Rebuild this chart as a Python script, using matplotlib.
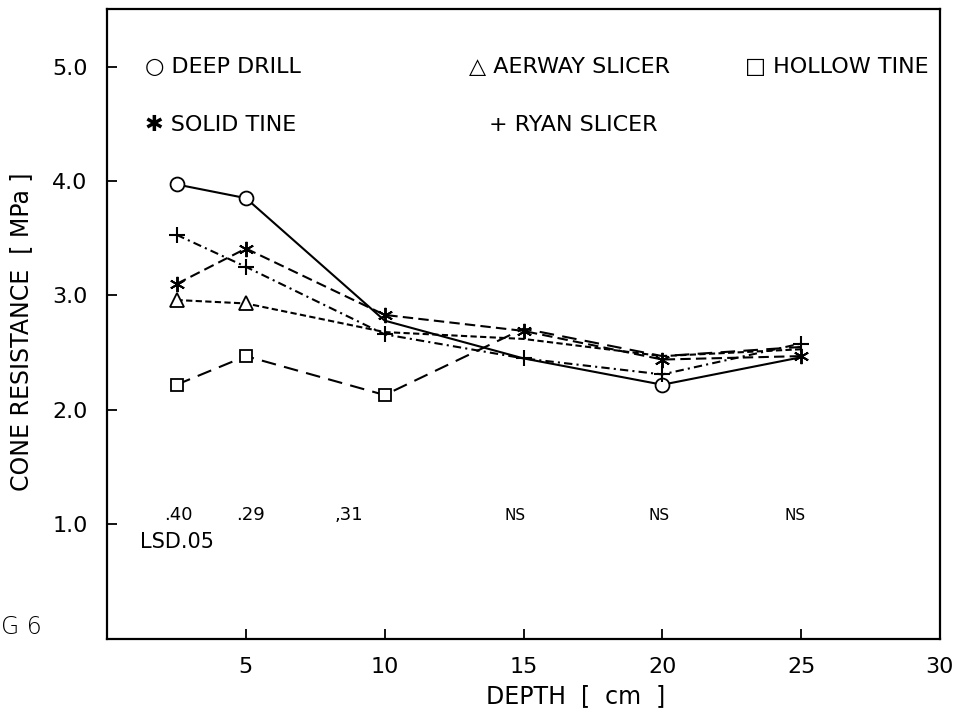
import matplotlib
matplotlib.use("Agg")
import matplotlib.pyplot as plt

# depth (cm) and cone resistance (MPa) per treatment
depth = [2.5, 5, 10, 15, 20, 25]
deep_drill = [3.97, 3.85, 2.78, 2.45, 2.22, 2.46]
aerway_slicer = [2.96, 2.93, 2.68, 2.62, 2.47, 2.53]
hollow_tine = [2.22, 2.47, 2.13, 2.71, 2.47, 2.55]
solid_tine = [3.10, 3.41, 2.83, 2.69, 2.44, 2.47]
ryan_slicer = [3.53, 3.25, 2.66, 2.45, 2.31, 2.58]

x_ticks = [5, 10, 15, 20, 25, 30]
y_ticks = [1, 2, 3, 4, 5]

# handwritten LSD notes under each depth
lsd_x = [2.55, 5.15, 8.7, 14.7, 19.9, 24.8]
lsd_text = [".40", ".29", ",31", "NS", "NS", "NS"]
lsd_size = [13, 13, 13, 11, 11, 11]

plt.rcParams['font.family'] = ['DejaVu Sans']

fig = plt.figure(figsize=(9.65, 7.13), dpi=100)
ax = fig.add_axes([0.111, 0.104, 0.863, 0.883])

lw = 1.5
ms = 10
ax.plot(depth, deep_drill, color='k', lw=lw, ls='-', marker='o', ms=ms,
        mfc='white', mec='k', mew=1.3, markevery=[0, 1, 4], zorder=3)
ax.plot(depth, aerway_slicer, color='k', lw=lw, ls=(0, (3, 1.6)), marker='^',
        ms=ms, mfc='white', mec='k', mew=1.3, markevery=[0, 1], zorder=3)
ax.plot(depth, hollow_tine, color='k', lw=lw, ls=(0, (7, 4)), marker='s',
        ms=9, mfc='white', mec='k', mew=1.3, markevery=[0, 1, 2], zorder=3)
ax.plot(depth, solid_tine, color='k', lw=lw, ls=(0, (5, 2.5)), marker=(6, 2, 0),
        ms=11, mec='k', mew=1.4, zorder=4)
ax.plot(depth, ryan_slicer, color='k', lw=lw, ls=(0, (4, 2, 1, 2)), marker='+',
        ms=12, mec='k', mew=1.5, zorder=4)

ax.set_xlim(0, 30)
ax.set_ylim(0, 5.5)
ax.set_xticks(x_ticks)
ax.set_xticklabels([str(v) for v in x_ticks])
ax.set_yticks(y_ticks)
ax.set_yticklabels(["%.1f" % v for v in y_ticks])
ax.tick_params(direction='in', length=7, width=1.3, labelsize=16, pad=14)
ax.tick_params(axis='x', pad=13)
for s in ax.spines.values():
    s.set_linewidth(1.6)

ax.set_ylabel("CONE RESISTANCE  [ MPa ]", fontsize=17)
ax.yaxis.set_label_coords(-0.089, 0.488)
ax.set_xlabel("DEPTH  [  cm  ]", fontsize=17)
ax.xaxis.set_label_coords(0.563, -0.072)

# legend drawn as text with symbols, as on the original plot
leg_kw = dict(transform=ax.transAxes, fontsize=16, va='center', ha='left')
ax.text(0.045, 0.908, "○ DEEP DRILL", **leg_kw)
ax.text(0.435, 0.908, "△ AERWAY SLICER", **leg_kw)
ax.text(0.766, 0.908, "□ HOLLOW TINE", **leg_kw)
ax.text(0.045, 0.816, "✱ SOLID TINE", **leg_kw)
ax.text(0.459, 0.816, "+ RYAN SLICER", **leg_kw)

for xv, t, fs in zip(lsd_x, lsd_text, lsd_size):
    ax.text(xv, 1.08, t, fontsize=fs, ha='center', va='center')
ax.text(2.5, 0.85, "LSD.05", fontsize=15, ha='center', va='center')

fig.text(0.001, 0.12, "G 6", fontsize=17, ha='left', va='center',
         fontweight='light')

fig.savefig("out.png", dpi=100)
